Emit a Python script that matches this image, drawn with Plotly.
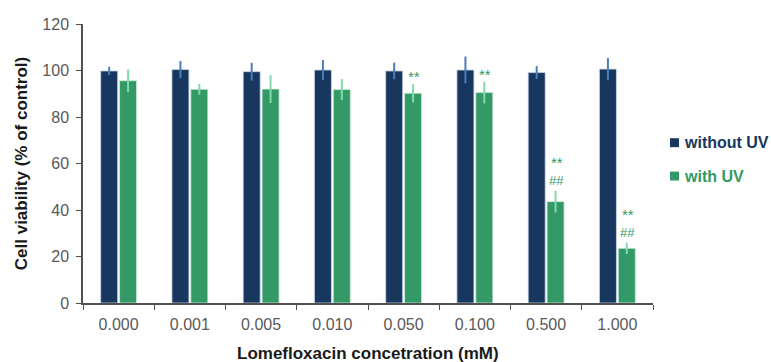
import plotly.graph_objects as go

categories = ["0.000", "0.001", "0.005", "0.010", "0.050", "0.100", "0.500", "1.000"]
without_uv = [99.8, 100.4, 99.5, 100.2, 99.8, 100.2, 99.1, 100.6]
without_uv_err = [1.8, 3.7, 3.8, 4.3, 3.6, 5.8, 2.8, 4.8]
with_uv = [95.6, 91.9, 92.0, 91.8, 90.2, 90.5, 43.6, 23.5]
with_uv_err = [4.9, 2.3, 6.0, 4.5, 3.9, 4.7, 4.6, 2.4]
star_marks = ["", "", "", "", "**", "**", "**", "**"]
hash_marks = ["", "", "", "", "", "", "##", "##"]
series_names = ["without UV", "with UV"]
y_ticks = [0, 20, 40, 60, 80, 100, 120]
x_title = "Lomefloxacin concetration (mM)"
y_title = "Cell viability (% of control)"

NAVY = "#17375e"
GREEN = "#339966"
FONT = "Liberation Sans"

fig = go.Figure()
fig.add_trace(go.Bar(
    x=categories, y=without_uv, name=series_names[0],
    marker=dict(color=NAVY, line=dict(color="#c9d6e6", width=0.8)),
    error_y=dict(type="data", array=without_uv_err, visible=True,
                 color="#4a7ebb", thickness=2, width=0),
    showlegend=False,
))
fig.add_trace(go.Bar(
    x=categories, y=with_uv, name=series_names[1],
    marker=dict(color=GREEN, line=dict(color="#cfe9db", width=0.8)),
    error_y=dict(type="data", array=with_uv_err, visible=True,
                 color="#7fdcaa", thickness=2, width=0),
    showlegend=False,
))

# significance marks above the "with UV" bars
for i, cat in enumerate(categories):
    top = with_uv[i] + with_uv_err[i]
    shift = 1
    if hash_marks[i]:
        fig.add_annotation(x=i, y=top, xref="x", yref="y", text=hash_marks[i],
                           showarrow=False, xshift=10.5, yshift=shift, yanchor="bottom",
                           font=dict(family=FONT, size=13, color=GREEN))
        shift += 21
    if star_marks[i]:
        fig.add_annotation(x=i, y=top, xref="x", yref="y", text=star_marks[i],
                           showarrow=False, xshift=10.5, yshift=shift - 4, yanchor="bottom",
                           font=dict(family=FONT, size=15, color=GREEN))

# manual legend
legend_y = [0.5746, 0.455]
legend_col = [NAVY, GREEN]
for name, yy, col in zip(series_names, legend_y, legend_col):
    fig.add_shape(type="rect", xref="paper", yref="paper",
                  x0=1.0298, x1=1.0456, y0=yy - 0.016, y1=yy + 0.016,
                  fillcolor=col, line=dict(width=0))
    fig.add_annotation(x=1.0505, y=yy, xref="paper", yref="paper", text="<b>%s</b>" % name,
                       showarrow=False, xanchor="left", yanchor="middle",
                       font=dict(family=FONT, size=16, color=col))

# x axis title (placed as annotation so it can sit lower, as in the reference)
fig.add_annotation(x=0.5, y=0, xref="paper", yref="paper", text="<b>%s</b>" % x_title,
                   showarrow=False, xanchor="center", yanchor="top", yshift=-39,
                   font=dict(family=FONT, size=17, color="#1a1a1a"))

fig.update_layout(
    width=771, height=362,
    margin=dict(l=83, r=118, t=24, b=59, autoexpand=False),
    paper_bgcolor="white", plot_bgcolor="white",
    barmode="group", bargap=0.47, bargroupgap=0.1,
    font=dict(family=FONT, color="#595959"),
    xaxis=dict(
        type="category", tickson="boundaries", ticks="outside", ticklen=5,
        tickcolor="#505050", showline=True, linecolor="#505050", linewidth=1.5,
        tickfont=dict(family=FONT, size=16, color="#595959"), ticklabelstandoff=6,
        showgrid=False, zeroline=False, automargin=False,
    ),
    yaxis=dict(
        range=[0, 120], tickvals=y_ticks, ticks="outside", ticklen=5,
        tickcolor="#505050", showline=True, linecolor="#505050", linewidth=1.5,
        tickfont=dict(family=FONT, size=16, color="#595959"), ticklabelstandoff=4,
        title=dict(text="<b>%s</b>" % y_title, standoff=10,
                   font=dict(family=FONT, size=17, color="#1a1a1a")),
        showgrid=False, zeroline=False, automargin=False,
    ),
)

fig.write_html("out.html", config={"displayModeBar": False},
               post_script="document.body.style.margin='0';")
